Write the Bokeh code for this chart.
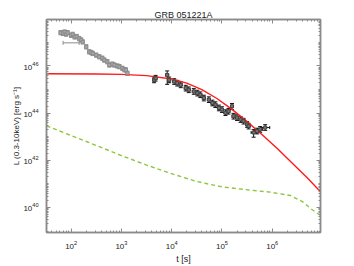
import numpy as np
from bokeh.plotting import figure
from bokeh.models import (Range1d, LogAxis, FixedTicker, Whisker, ColumnDataSource, TeeHead,
                          CustomJSTickFormatter, Title)
from bokeh.embed import file_html
from bokeh.resources import INLINE

# ---- data (log10 values) ----
# early grey points
grey_logt = [1.79, 1.84, 1.87, 1.90, 1.93, 2.00, 2.03, 2.07, 2.11, 2.16, 2.20, 2.23, 2.30, 2.36, 2.40,
             2.43, 2.50, 2.56, 2.62, 2.66, 2.72, 2.76, 2.82, 2.86, 2.92, 2.96, 3.02, 3.06, 3.09, 3.12]
grey_logL = [47.41, 47.38, 47.44, 47.35, 47.41, 47.30, 47.34, 47.23, 47.25, 47.16, 47.10, 47.02, 46.81, 46.60, 46.57,
             46.53, 46.46, 46.39, 46.33, 46.25, 46.18, 46.04, 46.08, 46.04, 46.00, 45.97, 45.90, 45.84, 45.83, 45.69]
grey_dlogL = [0.09] * len(grey_logt)
grey_dlogt = [0.03] * len(grey_logt)
# one early point with a wide time bin
wide_logt = [1.97]
wide_logL = [46.98]
wide_logt_lo = [1.84]
wide_logt_hi = [2.16]

# later points (black error bars)
late_logt = [3.65, 3.68, 3.91, 3.95, 4.05, 4.11, 4.18, 4.28, 4.34, 4.44, 4.51, 4.57, 4.64, 4.74, 4.81,
             4.87, 4.94, 5.00, 5.07, 5.13, 5.20, 5.23, 5.30, 5.37, 5.43, 5.50, 5.53, 5.63, 5.70, 5.76, 5.86]
late_logL = [45.41, 45.48, 45.62, 45.41, 45.34, 45.27, 45.20, 45.06, 44.99, 44.92, 44.85, 44.78, 44.64, 44.57, 44.43,
             44.36, 44.22, 44.15, 44.02, 44.08, 44.29, 43.87, 43.81, 43.73, 43.66, 43.52, 43.45, 43.18, 43.24, 43.31, 43.39]
late_dlogL_up = [0.12, 0.12, 0.17, 0.12, 0.12, 0.12, 0.12, 0.12, 0.12, 0.12, 0.12, 0.12, 0.12, 0.12, 0.12,
                 0.12, 0.12, 0.12, 0.12, 0.12, 0.12, 0.12, 0.12, 0.12, 0.12, 0.12, 0.12, 0.12, 0.12, 0.12, 0.12]
late_dlogL_dn = [0.12, 0.12, 0.40, 0.12, 0.12, 0.12, 0.12, 0.12, 0.12, 0.12, 0.12, 0.12, 0.12, 0.12, 0.12,
                 0.12, 0.12, 0.12, 0.12, 0.12, 0.14, 0.12, 0.12, 0.12, 0.12, 0.12, 0.12, 0.20, 0.12, 0.12, 0.12]
late_dlogt = [0.03] * 27 + [0.05, 0.05, 0.05, 0.09]

# model curves
red_logt = [1.51, 2.5, 3.0, 3.5, 4.0, 4.3, 4.6, 4.9, 5.2, 5.5, 5.8, 6.1, 6.4, 6.7, 6.96]
red_logL = [45.67, 45.66, 45.645, 45.59, 45.45, 45.27, 44.995, 44.62, 44.16, 43.64, 43.085, 42.50, 41.88, 41.25, 40.67]

green_logt = [1.51, 2.0, 2.5, 3.0, 3.5, 3.96, 4.5, 5.0, 5.5, 5.96, 6.36, 6.6, 6.76, 6.96]
green_logL = [43.46, 43.05, 42.63, 42.2, 41.8, 41.46, 41.1, 40.875, 40.75, 40.65, 40.51, 40.25, 39.96, 39.66]

x_major = [1e2, 1e3, 1e4, 1e5, 1e6]
y_major = [1e40, 1e42, 1e44, 1e46]

title_text = "GRB 051221A"
xlabel_text = "t [s]"
ylabel_text = "L (0.3-10keV) [erg s\u207b\u00b9]"

FONT = "Liberation Sans"
AX = "#8a8a8a"
TXT = "#222222"

XLO, XHI = 1.51, 6.96
YLO, YHI = 38.94, 47.97

p = figure(width=354, height=266, x_axis_type="log", y_axis_type="log",
           x_range=Range1d(10 ** XLO, 10 ** XHI), y_range=Range1d(10 ** YLO, 10 ** YHI),
           output_backend="svg", toolbar_location=None,
           min_border_left=46, min_border_right=34, min_border_top=19, min_border_bottom=31)
p.title.text = title_text
p.title.align = "center"
p.title.vertical_align = "bottom"
p.title.text_font = FONT
p.title.text_font_size = "9px"
p.title.text_font_style = "normal"
p.title.text_color = TXT
p.title.standoff = 0
p.title.offset = 0
p.xgrid.visible = False
p.ygrid.visible = False
p.outline_line_color = AX
p.outline_line_width = 1.5
p.background_fill_color = "white"
p.border_fill_color = "white"

x_minor = [k * 10.0 ** e for e in range(1, 7) for k in range(1, 10)]
y_minor = [k * 10.0 ** e for e in range(38, 48) for k in range(1, 10)]
xt = FixedTicker(ticks=x_major, minor_ticks=x_minor)
yt = FixedTicker(ticks=y_major, minor_ticks=y_minor)


def style(ax):
    ax.axis_line_color = AX
    ax.axis_line_width = 1.5
    ax.major_tick_line_color = AX
    ax.minor_tick_line_color = AX
    ax.major_tick_in = 4
    ax.major_tick_out = 0
    ax.minor_tick_in = 2
    ax.minor_tick_out = 0
    ax.major_label_text_font = FONT
    ax.major_label_text_font_size = "8px"
    ax.major_label_text_color = TXT
    ax.axis_label_text_font = FONT
    ax.axis_label_text_font_size = "9px"
    ax.axis_label_text_font_style = "normal"
    ax.axis_label_text_color = TXT


p.xaxis.ticker = xt
p.yaxis.ticker = yt
style(p.xaxis[0])
style(p.yaxis[0])
p.xaxis.major_label_standoff = 8
p.xaxis.axis_label_standoff = 2
p.xaxis.axis_label = xlabel_text
p.yaxis.major_label_standoff = 8

blank = CustomJSTickFormatter(code="return ''")
top = LogAxis(ticker=xt, formatter=blank)
style(top)
top.major_label_standoff = 0
p.add_layout(top, "above")
right = LogAxis(ticker=yt, formatter=blank)
style(right)
right.major_label_standoff = 0
p.add_layout(right, "right")

# y-axis label as a side title hugging the axis
ytitle = Title(text=ylabel_text, align="center", vertical_align="bottom", text_font=FONT,
               text_font_size="8px", text_font_style="normal", text_color=TXT, standoff=0, offset=0)
p.add_layout(ytitle, "left")

# model lines
p.line([10 ** v for v in green_logt], [10 ** v for v in green_logL], line_color="#8dc63f",
       line_width=1.4, line_dash="4 3")
p.line([10 ** v for v in red_logt], [10 ** v for v in red_logL], line_color="#ff1a1a", line_width=1.4)

# early grey points
gt = np.array(grey_logt); gL = np.array(grey_logL)
gdl = np.array(grey_dlogL); gdt = np.array(grey_dlogt)
gsrc = ColumnDataSource(dict(x=10 ** gt, y=10 ** gL,
                             ylo=10 ** (gL - gdl), yhi=10 ** (gL + gdl),
                             xlo=10 ** (gt - gdt), xhi=10 ** (gt + gdt)))
wsrc = ColumnDataSource(dict(x=10 ** np.array(wide_logt), y=10 ** np.array(wide_logL),
                             xlo=10 ** np.array(wide_logt_lo), xhi=10 ** np.array(wide_logt_hi)))

GREY = "#8c8c8c"
p.add_layout(Whisker(source=gsrc, base="x", lower="ylo", upper="yhi", dimension="height",
                     line_color=GREY, line_width=1,
                     upper_head=TeeHead(size=4, line_color=GREY), lower_head=TeeHead(size=4, line_color=GREY)))
p.add_layout(Whisker(source=gsrc, base="y", lower="xlo", upper="xhi", dimension="width",
                     line_color=GREY, line_width=1,
                     upper_head=TeeHead(size=4, line_color=GREY), lower_head=TeeHead(size=4, line_color=GREY)))
p.add_layout(Whisker(source=wsrc, base="y", lower="xlo", upper="xhi", dimension="width",
                     line_color=GREY, line_width=1,
                     upper_head=TeeHead(size=4, line_color=GREY), lower_head=TeeHead(size=4, line_color=GREY)))
p.scatter("x", "y", source=gsrc, marker="square", size=3, fill_color="#aaaaaa", line_color=GREY)

# later black points
lt = np.array(late_logt); lL = np.array(late_logL)
lsrc = ColumnDataSource(dict(x=10 ** lt, y=10 ** lL,
                             ylo=10 ** (lL - np.array(late_dlogL_dn)), yhi=10 ** (lL + np.array(late_dlogL_up)),
                             xlo=10 ** (lt - np.array(late_dlogt)), xhi=10 ** (lt + np.array(late_dlogt))))
BLK = "#111111"
p.add_layout(Whisker(source=lsrc, base="x", lower="ylo", upper="yhi", dimension="height",
                     line_color=BLK, line_width=1,
                     upper_head=TeeHead(size=4, line_color=BLK), lower_head=TeeHead(size=4, line_color=BLK)))
p.add_layout(Whisker(source=lsrc, base="y", lower="xlo", upper="xhi", dimension="width",
                     line_color=BLK, line_width=1,
                     upper_head=TeeHead(size=3, line_color=BLK), lower_head=TeeHead(size=3, line_color=BLK)))
p.scatter("x", "y", source=lsrc, marker="square", size=3, fill_color="#777777", line_color="#444444")

open("out.html", "w").write(file_html(p, INLINE))
